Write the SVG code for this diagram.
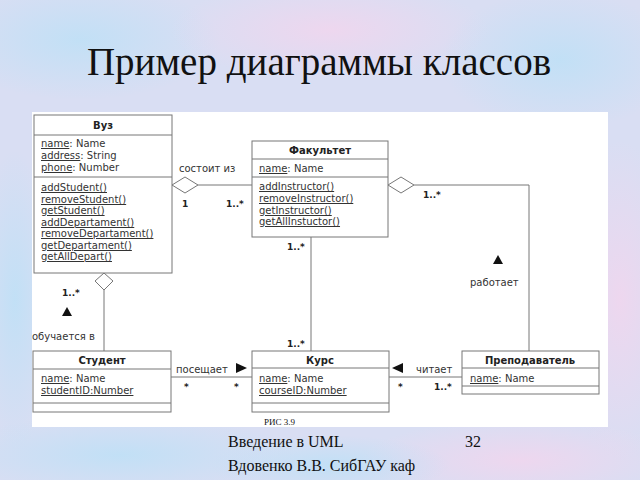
<svg xmlns="http://www.w3.org/2000/svg" width="640" height="480" viewBox="0 0 640 480">
<defs>
<style>
.t{font-family:"DejaVu Sans",sans-serif;font-size:10px;fill:#333}
.h{font-family:"DejaVu Sans",sans-serif;font-size:10px;font-weight:bold;fill:#222;text-anchor:middle}
.u{text-decoration:underline}
.box{fill:#fff;stroke:#777;stroke-width:1}
.ln{fill:none;stroke:#777;stroke-width:1}
.dm{fill:#fff;stroke:#777;stroke-width:1}
.m{font-family:"DejaVu Sans",sans-serif;font-size:9px;font-weight:bold;fill:#222}
.tr{fill:#111}
.serif{font-family:"Liberation Serif",serif;fill:#111}
</style>
<radialGradient id="g1" cx="0.5" cy="0.5" r="0.5"><stop offset="0" stop-color="#f0d6ee" stop-opacity="0.9"/><stop offset="1" stop-color="#f0d6ee" stop-opacity="0"/></radialGradient>
<radialGradient id="g2" cx="0.5" cy="0.5" r="0.5"><stop offset="0" stop-color="#bfe0f6" stop-opacity="0.9"/><stop offset="1" stop-color="#bfe0f6" stop-opacity="0"/></radialGradient>
</defs>
<rect x="0" y="0" width="640" height="480" fill="#d9def3"/>
<ellipse cx="80" cy="40" rx="140" ry="60" fill="url(#g2)"/>
<ellipse cx="330" cy="30" rx="160" ry="50" fill="url(#g1)"/>
<ellipse cx="560" cy="60" rx="120" ry="70" fill="url(#g2)"/>
<ellipse cx="620" cy="300" rx="60" ry="160" fill="url(#g1)"/>
<ellipse cx="15" cy="300" rx="40" ry="150" fill="url(#g2)"/>
<ellipse cx="120" cy="455" rx="180" ry="40" fill="url(#g2)"/>
<ellipse cx="520" cy="460" rx="160" ry="40" fill="url(#g1)"/>
<ellipse cx="330" cy="465" rx="120" ry="30" fill="url(#g2)"/>
<text class="serif" x="319" y="75" font-size="39" text-anchor="middle">Пример диаграммы классов</text>
<rect x="32" y="112" width="576" height="315" fill="#fff"/>

<g id="connectors">
<polygon class="dm" points="172,185 185,177 198,185 185,193"/>
<line class="ln" x1="198" y1="185" x2="252" y2="185"/>
<polygon class="dm" points="388,185 401,177 414,185 401,193"/>
<polyline class="ln" points="414,185 529,185 529,351"/>
<polygon class="dm" points="104,273 113,281 104,290 95,281"/>
<line class="ln" x1="104" y1="290" x2="104" y2="351"/>
<line class="ln" x1="311" y1="237" x2="311" y2="351"/>
<line class="ln" x1="171" y1="377" x2="252" y2="377"/>
<line class="ln" x1="389" y1="377" x2="462" y2="377"/>
<polygon class="tr" points="236,363 247,368 236,373"/>
<polygon class="tr" points="403,363 392,368 403,373"/>
<polygon class="tr" points="67,307 72,316 62,316"/>
<polygon class="tr" points="498,255 503,264 493,264"/>
<text class="t" x="179" y="172">состоит из</text>
<text class="m" x="182" y="207">1</text>
<text class="m" x="226" y="207">1..*</text>
<text class="m" x="423" y="198">1..*</text>
<text class="t" x="470" y="286">работает</text>
<text class="m" x="62" y="296">1..*</text>
<text class="t" x="32" y="340">обучается в</text>
<text class="m" x="287" y="250">1..*</text>
<text class="m" x="287" y="347">1..*</text>
<text class="t" x="176" y="373">посещает</text>
<text class="m" x="184" y="390">*</text>
<text class="m" x="234" y="390">*</text>
<text class="t" x="416" y="373">читает</text>
<text class="m" x="398" y="390">*</text>
<text class="m" x="434" y="390">1..*</text>
</g>

<g id="vuz">
<rect class="box" x="34" y="115" width="138" height="158"/>
<line class="ln" x1="34" y1="135" x2="172" y2="135"/>
<line class="ln" x1="34" y1="177" x2="172" y2="177"/>
<text class="h" x="103" y="129">Вуз</text>
<text class="t" x="41" y="147"><tspan class="u">name</tspan>: Name</text>
<text class="t" x="41" y="159"><tspan class="u">address</tspan>: String</text>
<text class="t" x="41" y="171"><tspan class="u">phone</tspan>: Number</text>
<text class="t u" x="41" y="191">addStudent()</text>
<text class="t u" x="41" y="203">removeStudent()</text>
<text class="t u" x="41" y="214">getStudent()</text>
<text class="t u" x="41" y="226">addDepartament()</text>
<text class="t u" x="41" y="237">removeDepartament()</text>
<text class="t u" x="41" y="249">getDepartament()</text>
<text class="t u" x="41" y="260">getAllDepart()</text>
</g>

<g id="fakultet">
<rect class="box" x="252" y="141" width="136" height="96"/>
<line class="ln" x1="252" y1="159" x2="388" y2="159"/>
<line class="ln" x1="252" y1="177" x2="388" y2="177"/>
<text class="h" x="320" y="154">Факультет</text>
<text class="t" x="259" y="172"><tspan class="u">name</tspan>: Name</text>
<text class="t u" x="259" y="190">addInstructor()</text>
<text class="t u" x="259" y="202">removeInstructor()</text>
<text class="t u" x="259" y="214">getInstructor()</text>
<text class="t u" x="259" y="225">getAllInstuctor()</text>
</g>

<g id="student">
<rect class="box" x="33" y="351" width="138" height="61"/>
<line class="ln" x1="33" y1="369" x2="171" y2="369"/>
<line class="ln" x1="33" y1="403" x2="171" y2="403"/>
<text class="h" x="102" y="364">Студент</text>
<text class="t" x="41" y="382"><tspan class="u">name</tspan>: Name</text>
<text class="t u" x="41" y="394">studentID:Number</text>
</g>

<g id="kurs">
<rect class="box" x="252" y="351" width="137" height="61"/>
<line class="ln" x1="252" y1="368" x2="389" y2="368"/>
<line class="ln" x1="252" y1="403" x2="389" y2="403"/>
<text class="h" x="320" y="364">Курс</text>
<text class="t" x="259" y="382"><tspan class="u">name</tspan>: Name</text>
<text class="t u" x="259" y="394">courseID:Number</text>
</g>

<g id="prepodavatel">
<rect class="box" x="462" y="351" width="137" height="43"/>
<line class="ln" x1="462" y1="368" x2="599" y2="368"/>
<line class="ln" x1="462" y1="386" x2="599" y2="386"/>
<text class="h" x="530" y="364">Преподаватель</text>
<text class="t" x="470" y="382"><tspan class="u">name</tspan>: Name</text>
</g>

<text class="serif" x="264" y="425" font-size="9">РИС 3.9</text>
<text class="serif" x="228" y="447" font-size="16">Введение в UML</text>
<text class="serif" x="228" y="471" font-size="16">Вдовенко В.В. СибГАУ каф</text>
<text class="serif" x="465" y="447" font-size="16">32</text>
</svg>
